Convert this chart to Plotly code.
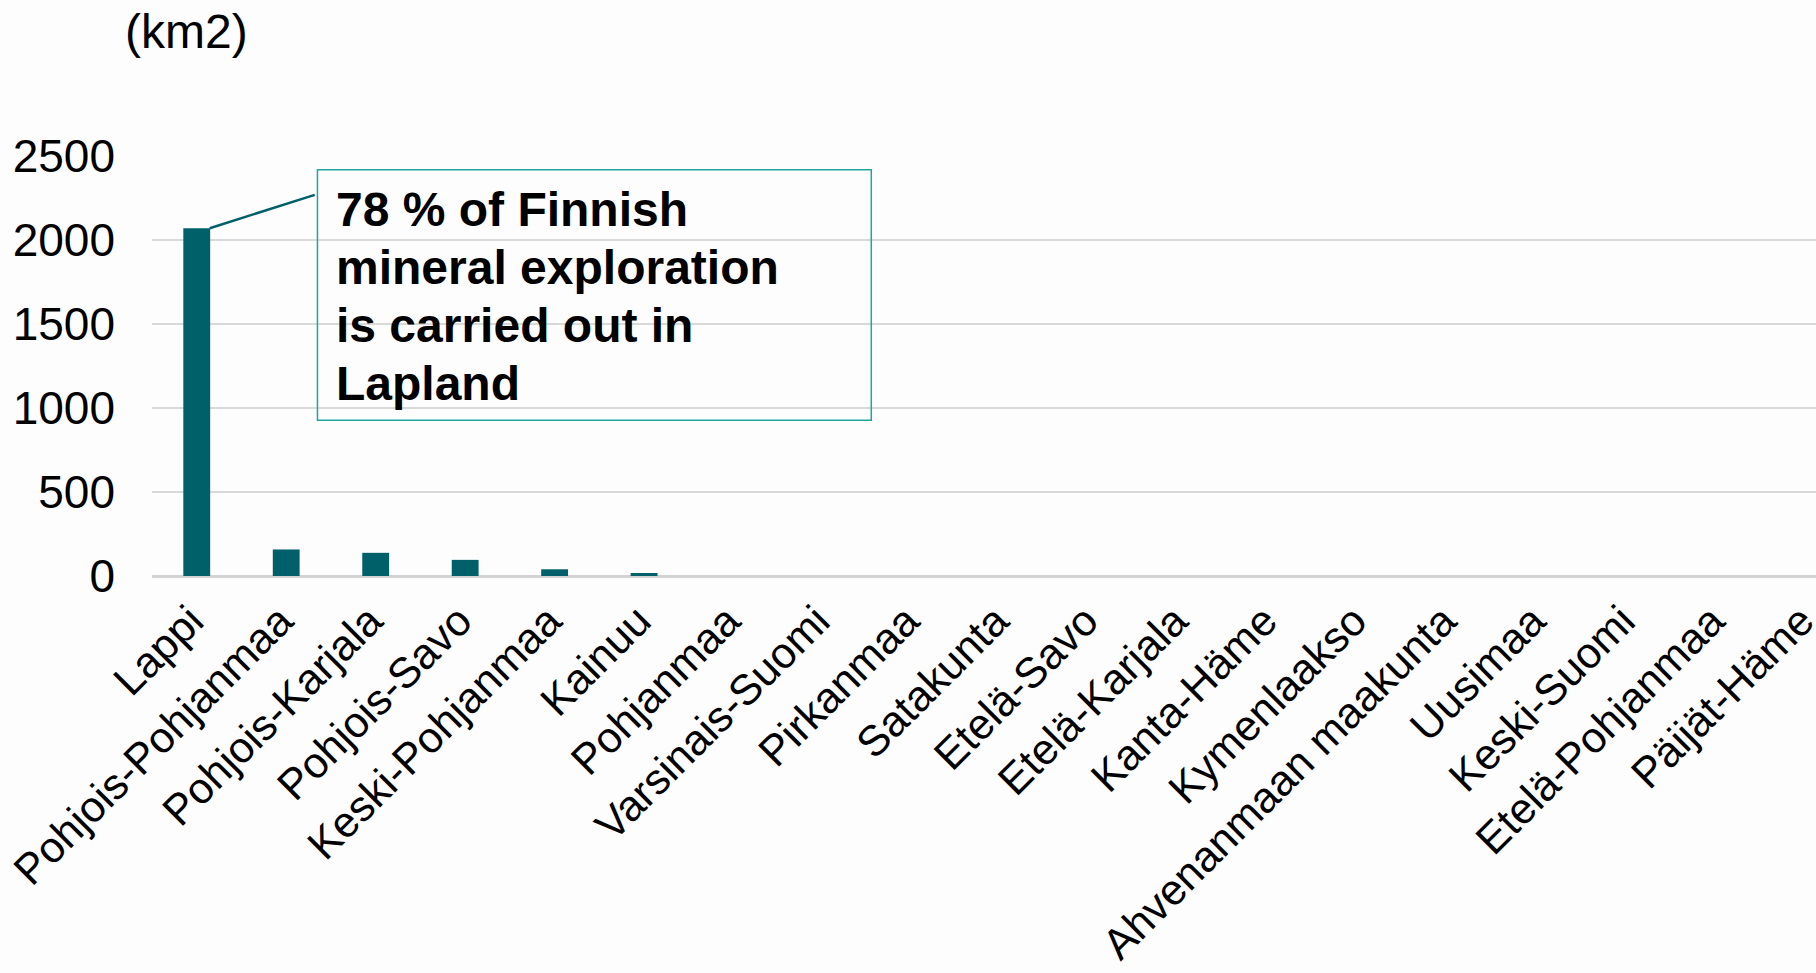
import plotly.graph_objects as go

regions = ["Lappi", "Pohjois-Pohjanmaa", "Pohjois-Karjala", "Pohjois-Savo", "Keski-Pohjanmaa",
           "Kainuu", "Pohjanmaa", "Varsinais-Suomi", "Pirkanmaa", "Satakunta", "Etelä-Savo",
           "Etelä-Karjala", "Kanta-Häme", "Kymenlaakso", "Ahvenanmaan maakunta", "Uusimaa",
           "Keski-Suomi", "Etelä-Pohjanmaa", "Päijät-Häme"]
area_km2 = [2070, 158, 138, 96, 40, 18, 0, 0, 0, 0, 0, 0, 0, 0, 0, 0, 0, 0, 0]
y_ticks = [0, 500, 1000, 1500, 2000, 2500]
unit_label = "(km2)"
callout_lines = ["78 % of Finnish", "mineral exploration", "is carried out in", "Lapland"]

BAR = "#00606A"
FONT = "Liberation Sans, Arial, sans-serif"

fig = go.Figure(go.Bar(x=list(range(len(regions))), y=area_km2, width=0.3,
                       marker=dict(color=BAR, line=dict(width=0))))

W, H = 1816, 973
L, R, T, B = 151.5, 0, 156.3, 973 - 575.6
pw = W - L - R
ph = H - T - B
cat_w = 89.5
x_end = -0.5 + pw / cat_w

fig.update_layout(
    width=W, height=H,
    margin=dict(l=L, r=R, t=T, b=B, pad=0, autoexpand=False),
    paper_bgcolor="#FDFDFD", plot_bgcolor="#FDFDFD",
    font=dict(family=FONT, size=44, color="#000000"),
    showlegend=False,
)
fig.update_xaxes(range=[-0.5, x_end], tickmode="array",
                 tickvals=list(range(len(regions))), ticktext=regions,
                 tickangle=-45, showgrid=False, showline=False, ticks="",
                 automargin=False, ticklabeloverflow="allow",
                 tickfont=dict(size=43, family=FONT, color="#000000"),
                 ticklabelstandoff=10, ticklabelshift=-6)
fig.update_yaxes(range=[0, 2500], tickmode="array", tickvals=y_ticks,
                 showgrid=True, gridcolor="#D9D9D9", gridwidth=2,
                 zeroline=True, zerolinecolor="#D3D3D3", zerolinewidth=3,
                 showline=False, ticks="", ticklabelstandoff=36, automargin=False,
                 tickfont=dict(size=46, family=FONT, color="#000000"))

def px_x(px):
    return (px - L) / pw

def px_y(py):
    return (H - B - py) / ph

# unit label
fig.add_annotation(text=unit_label, xref="paper", yref="paper",
                   x=px_x(186), y=px_y(32), xanchor="center", yanchor="middle",
                   showarrow=False, font=dict(size=48, family=FONT, color="#000000"))

# callout box
box_l, box_t, box_r, box_b = 317, 170, 871, 420
fig.add_shape(type="rect", xref="paper", yref="paper",
              x0=px_x(box_l), x1=px_x(box_r), y0=px_y(box_b), y1=px_y(box_t),
              line=dict(color="#1FA69D", width=1.5), fillcolor="rgba(0,0,0,0)")

baselines = [227, 285, 343, 400]
for line, base in zip(callout_lines, baselines):
    fig.add_annotation(text=line, xref="paper", yref="paper",
                       x=px_x(334), y=px_y(base - 17), xanchor="left", yanchor="middle",
                       showarrow=False, align="left",
                       font=dict(size=48, family=FONT, color="#000000", weight="bold"))

# connector line from Lappi bar top to box
fig.add_annotation(text=" ", x=0, y=area_km2[0], xref="x", yref="y",
                   xshift=13, showarrow=True, arrowhead=0, arrowwidth=2.5,
                   arrowcolor=BAR, ax=107, ay=-34, standoff=0, startstandoff=0,
                   font=dict(size=2))

fig.write_html("out.html", config={"displayModeBar": False},
               post_script="document.body.style.margin='0';document.body.style.overflow='hidden';")
